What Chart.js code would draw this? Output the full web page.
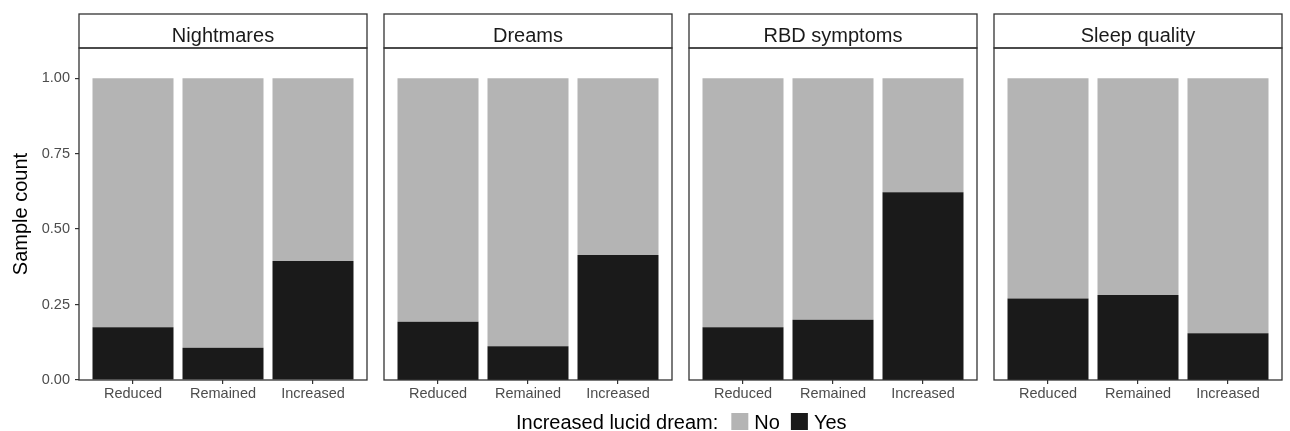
<!DOCTYPE html>
<html>
<head>
<meta charset="utf-8">
<script src="https://cdn.jsdelivr.net/npm/chart.js@4.4.1/dist/chart.umd.min.js"></script>
<style>
  html, body { margin: 0; padding: 0; background: #ffffff; }
  #wrap { position: relative; width: 1290px; height: 431px; overflow: hidden; }
  #wrap canvas { position: absolute; left: 0; top: 0; }
</style>
</head>
<body>
<div id="wrap"></div>
<script>
// ---- data ----
const facets = ['Nightmares', 'Dreams', 'RBD symptoms', 'Sleep quality'];
const categories = ['Reduced', 'Remained', 'Increased'];
const xPositions = [1, 2, 3];

// proportion answering "Yes" / "No" per facet, in category order
const yesNightmares = [0.175, 0.107, 0.394];
const noNightmares  = [0.825, 0.893, 0.606];
const yesDreams     = [0.193, 0.112, 0.414];
const noDreams      = [0.807, 0.888, 0.586];
const yesRBD        = [0.175, 0.200, 0.622];
const noRBD         = [0.825, 0.800, 0.378];
const yesSleep      = [0.270, 0.282, 0.155];
const noSleep       = [0.730, 0.718, 0.845];

const yesByFacet = [yesNightmares, yesDreams, yesRBD, yesSleep];
const noByFacet  = [noNightmares, noDreams, noRBD, noSleep];

const yTicks = [0, 0.25, 0.5, 0.75, 1.0];
const yTitle = 'Sample count';
const legendTitle = 'Increased lucid dream:';
const seriesNames = ['No', 'Yes'];

// ---- layout & style ----
const W = 1290, H = 431;
const PANEL_LEFT = [79, 384, 689, 994];
const PANEL_W = 288;
const STRIP_TOP = 14;
const PLOT_TOP = 48;
const PLOT_BOTTOM = 380;
const X_AXIS_H = 30;
const COLOR_NO = '#b4b4b4';
const COLOR_YES = '#1a1a1a';
const FRAME = '#333333';
const FONT = '"Liberation Sans", Arial, Helvetica, sans-serif';

Chart.defaults.font.family = FONT;
Chart.defaults.devicePixelRatio = 1;

// panel frame, strip header and (on the first panel) the legend row
const facetDecor = {
  id: 'facetDecor',
  afterDraw(chart, args, opts) {
    const ctx = chart.ctx;
    const a = chart.chartArea;
    ctx.save();
    ctx.strokeStyle = FRAME;
    ctx.lineWidth = 1.3;
    ctx.strokeRect(a.left, a.top, a.right - a.left, a.bottom - a.top);
    ctx.strokeRect(a.left, STRIP_TOP, a.right - a.left, a.top - STRIP_TOP);
    ctx.fillStyle = '#1a1a1a';
    ctx.font = '20px ' + FONT;
    ctx.textAlign = 'center';
    ctx.textBaseline = 'alphabetic';
    ctx.fillText(opts.label, (a.left + a.right) / 2, 42);

    if (opts.legend) {
      ctx.textAlign = 'left';
      ctx.fillStyle = '#000000';
      const base = 429;
      let x = 516;
      ctx.fillText(legendTitle, x, base);
      x += ctx.measureText(legendTitle).width + 13;
      const colors = [COLOR_NO, COLOR_YES];
      seriesNames.forEach((name, k) => {
        ctx.fillStyle = colors[k];
        ctx.fillRect(x, 413, 17, 17);
        x += 17 + 6;
        ctx.fillStyle = '#000000';
        ctx.fillText(name, x, base);
        x += ctx.measureText(name).width + 11;
      });
    }
    ctx.restore();
  }
};

const wrap = document.getElementById('wrap');

facets.forEach((facet, i) => {
  const canvas = document.createElement('canvas');
  canvas.width = W;
  canvas.height = H;
  wrap.appendChild(canvas);

  const first = i === 0;
  const points = arr => arr.map((v, k) => ({ x: xPositions[k], y: v }));

  new Chart(canvas, {
    type: 'bar',
    data: {
      datasets: [
        { label: seriesNames[1], data: points(yesByFacet[i]), backgroundColor: COLOR_YES, borderWidth: 0, stack: 's' },
        { label: seriesNames[0], data: points(noByFacet[i]), backgroundColor: COLOR_NO, borderWidth: 0, stack: 's' }
      ]
    },
    options: {
      responsive: false,
      animation: false,
      events: [],
      layout: {
        padding: {
          left: first ? 0 : PANEL_LEFT[i],
          right: W - PANEL_LEFT[i] - PANEL_W,
          top: PLOT_TOP,
          bottom: H - PLOT_BOTTOM - X_AXIS_H
        }
      },
      datasets: { bar: { barPercentage: 0.9, categoryPercentage: 1.0 } },
      plugins: {
        legend: { display: false },
        tooltip: { enabled: false },
        facetDecor: { label: facet, legend: first }
      },
      scales: {
        x: {
          type: 'linear',
          stacked: true,
          min: 0.4,
          max: 3.6,
          offset: false,
          afterBuildTicks: s => { s.ticks = xPositions.map(v => ({ value: v })); },
          afterFit: s => { s.height = X_AXIS_H; },
          ticks: {
            callback: v => categories[Math.round(v) - 1],
            autoSkip: false,
            maxRotation: 0,
            padding: 1,
            color: '#4d4d4d',
            font: { size: 14.5 }
          },
          grid: { offset: false, drawOnChartArea: false, drawTicks: true, tickLength: 4, color: FRAME, tickColor: FRAME, lineWidth: 1.2 },
          border: { display: false }
        },
        y: {
          display: first,
          stacked: true,
          min: 0,
          max: 1.1,
          afterBuildTicks: s => { s.ticks = yTicks.map(v => ({ value: v })); },
          afterFit: s => { s.width = first ? PANEL_LEFT[0] : 0; },
          ticks: {
            callback: v => Number(v).toFixed(2),
            padding: 5,
            color: '#4d4d4d',
            font: { size: 14.5 }
          },
          grid: { drawOnChartArea: false, drawTicks: true, tickLength: 4, color: FRAME, tickColor: FRAME, lineWidth: 1.2 },
          border: { display: false },
          title: {
            display: true,
            text: yTitle,
            color: '#000000',
            font: { size: 20 },
            padding: { top: 9, bottom: 0 }
          }
        }
      }
    },
    plugins: [facetDecor]
  });
});
</script>
</body>
</html>
